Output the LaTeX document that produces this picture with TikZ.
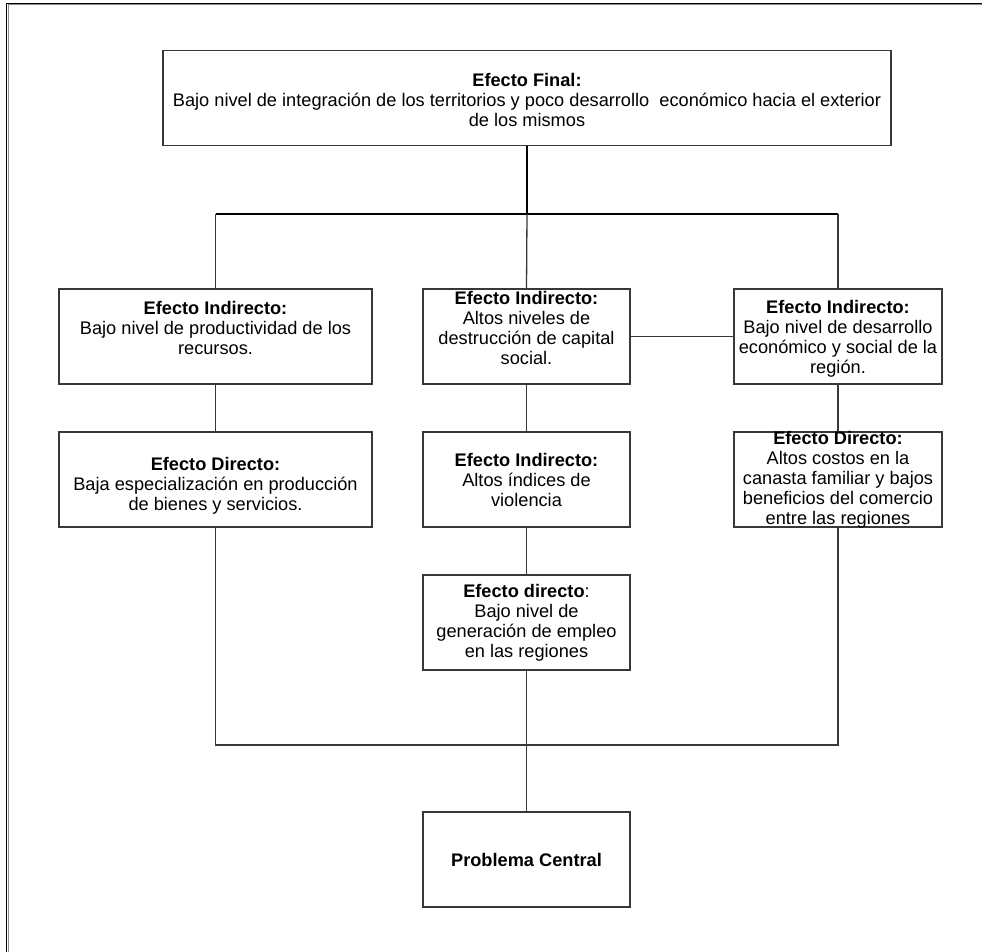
\documentclass[tikz,border=0pt]{standalone}
\usepackage{fontspec}
\setmainfont{Liberation Sans}
\begin{document}
\begin{tikzpicture}[x=1pt,y=-1pt,
  cbox/.style={draw=black!78, line width=1.3pt, minimum width=#1, minimum height=95pt, inner sep=0pt},
  txt/.style={align=center, inner sep=0pt, font=\fontsize{18.2}{20}\selectfont},
  link/.style={draw=black!78, line width=1.3pt},
  trunk/.style={draw=black, line width=1.8pt},
  rail/.style={draw=black, line width=1.3pt}]
\useasboundingbox (0,0) rectangle (982,952);

% page frame (top and left edges)
\draw[black, line width=1.4pt] (6.5,952) -- (6.5,3.5) -- (982,3.5);
\draw[black!45, line width=1pt] (8,952) -- (8,5) -- (982,5);

% boxes
\node[cbox=728pt] (fin) at (527,98) {};
\node[cbox=313pt] (l1) at (215.5,336.5) {};
\node[cbox=207pt] (m1) at (526.5,336.5) {};
\node[cbox=208pt] (r1) at (838,336.5) {};
\node[cbox=313pt] (l2) at (215.5,479.5) {};
\node[cbox=207pt] (m2) at (526.5,479.5) {};
\node[cbox=208pt] (r2) at (838,479.5) {};
\node[cbox=207pt] (m3) at (526.5,622.5) {};
\node[cbox=207pt] (pc) at (526.5,859.5) {};

% texts
\node[txt] (tfin) at ([yshift=-2pt]fin.center) {\textbf{Efecto Final:}\\Bajo nivel de integración de los territorios y poco desarrollo\ \ económico hacia el exterior\\de los mismos};
\node[txt] (tl1) at ([yshift=8.5pt]l1.center) {\textbf{Efecto Indirecto:}\\Bajo nivel de productividad de los\\recursos.};
\node[txt] (tm1) at ([yshift=8.5pt]m1.center) {\textbf{Efecto Indirecto:}\\Altos niveles de\\destrucción de capital\\social.};
\node[txt] (tr1) at ([yshift=-2pt]r1.center) {\textbf{Efecto Indirecto:}\\Bajo nivel de desarrollo\\económico y social de la\\región.};
\node[txt] (tl2) at ([yshift=-6.5pt]l2.center) {\textbf{Efecto Directo:}\\Baja especialización en producción\\de bienes y servicios.};
\node[txt] (tm2) at (m2.center) {\textbf{Efecto Indirecto:}\\Altos índices de\\violencia};
\node[txt] (tr2) at (r2.center) {\textbf{Efecto Directo:}\\Altos costos en la\\canasta familiar y bajos\\beneficios del comercio\\entre las regiones};
\node[txt] (tm3) at (m3.center) {\textbf{Efecto directo}:\\Bajo nivel de\\generación de empleo\\en las regiones};
\node[txt] (tpc) at (pc.center) {\textbf{Problema Central}};

% junction points
\coordinate (jt) at (fin.south |- 0,214);
\coordinate (jl) at (l1.north |- 0,214);
\coordinate (jr) at (r1.north |- 0,214);
\coordinate (bl) at (l2.south |- 0,745);
\coordinate (br) at (r2.south |- 0,745);

% connectors
\draw[trunk] (fin.south) -- (jt);
\draw[rail] (jl) -- (jr);
\draw[link] (jl) -- (l1.north);
\draw[link] (jt) -- (m1.north);
\draw[link] (jr) -- (r1.north);
\draw[link] (m1.east) -- (r1.west);
\draw[link] (l1.south) -- (l2.north);
\draw[link] (m1.south) -- (m2.north);
\draw[link] (r1.south) -- (r2.north);
\draw[link] (m2.south) -- (m3.north);
\draw[link] (l2.south) -- (bl) -- (br) -- (r2.south);
\draw[link] (m3.south) -- (pc.north);
\end{tikzpicture}
\end{document}
